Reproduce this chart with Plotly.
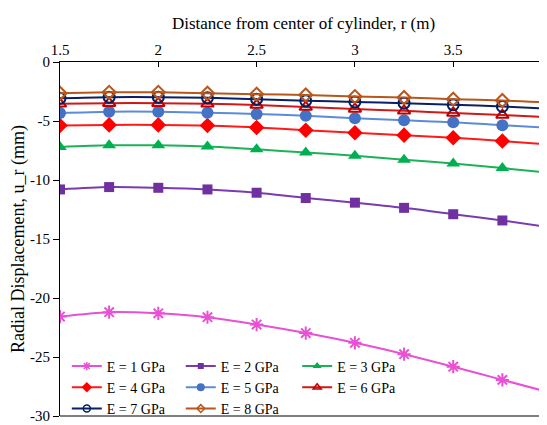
import plotly.graph_objects as go

r_m = [1.5, 1.75, 2.0, 2.25, 2.5, 2.75, 3.0, 3.25, 3.5, 3.75, 4.0]

u_E1 = [-21.57, -21.2, -21.3, -21.63, -22.25, -22.97, -23.8, -24.76, -25.82, -26.94, -28.05]
u_E2 = [-10.8, -10.6, -10.66, -10.8, -11.08, -11.53, -11.92, -12.36, -12.9, -13.43, -14.02]
u_E3 = [-7.2, -7.06, -7.06, -7.17, -7.4, -7.67, -7.95, -8.29, -8.6, -8.99, -9.4]
u_E4 = [-5.38, -5.33, -5.33, -5.38, -5.55, -5.78, -6.0, -6.2, -6.42, -6.7, -7.0]
u_E5 = [-4.33, -4.21, -4.21, -4.3, -4.41, -4.55, -4.77, -4.94, -5.1, -5.36, -5.6]
u_E6 = [-3.54, -3.49, -3.49, -3.54, -3.65, -3.82, -3.98, -4.14, -4.32, -4.5, -4.68]
u_E7 = [-3.07, -2.98, -2.98, -3.04, -3.15, -3.29, -3.38, -3.49, -3.63, -3.77, -3.98]
u_E8 = [-2.65, -2.57, -2.57, -2.65, -2.73, -2.79, -2.93, -3.01, -3.15, -3.26, -3.45]

series_names = ["E = 1 GPa", "E = 2 GPa", "E = 3 GPa", "E = 4 GPa",
                "E = 5 GPa", "E = 6 GPa", "E = 7 GPa", "E = 8 GPa"]
series_values = [u_E1, u_E2, u_E3, u_E4, u_E5, u_E6, u_E7, u_E8]

y_tickvals = [0, -5, -10, -15, -20, -25, -30]
y_ticktext = ["0", "-5", "-10", "-15", "-20", "-25", "-30"]
x_tickvals = [1.5, 2, 2.5, 3, 3.5]
x_ticktext = ["1.5", "2", "2.5", "3", "3.5"]

styles = [
    dict(line="#E851D4", fill="#E851D4", symbol="asterisk-open", size=11, mlw=2),
    dict(line="#7A3BB0", fill="#7030A0", symbol="square", size=10, mlw=0),
    dict(line="#1DB257", fill="#00B050", symbol="triangle-up", size=12, mlw=0),
    dict(line="#FF1A1A", fill="#FF0000", symbol="diamond", size=12, mlw=0),
    dict(line="#5B8BD9", fill="#4472C4", symbol="circle", size=12, mlw=0),
    dict(line="#D01818", fill="#C00000", symbol="triangle-up-open", size=11, mlw=2),
    dict(line="#0B1F66", fill="#002060", symbol="circle-open", size=11, mlw=2),
    dict(line="#B8561B", fill="#B8561B", symbol="diamond-open", size=10, mlw=2),
]
legend_of = ["legend", "legend2", "legend3", "legend", "legend2", "legend3", "legend", "legend2"]

fig = go.Figure()
for name, vals, st in zip(series_names, series_values, styles):
    fig.add_trace(go.Scatter(
        x=r_m, y=vals, mode="lines+markers", name=name, showlegend=False,
        line=dict(color=st["line"], width=2, shape="spline", smoothing=0.8),
        marker=dict(symbol=st["symbol"], size=st["size"], color=st["fill"],
                    line=dict(color=st["fill"], width=st["mlw"])),
    ))
# legend entries (smaller markers, as in the reference legend)
for name, st, lg in zip(series_names, styles, legend_of):
    fig.add_trace(go.Scatter(
        x=[None], y=[None], mode="lines+markers", name=name, legend=lg,
        line=dict(color=st["line"], width=2),
        marker=dict(symbol=st["symbol"], size=max(st["size"] - 4, 6), color=st["fill"],
                    line=dict(color=st["fill"], width=max(st["mlw"] - 0.5, 0))),
    ))

font_family = "Liberation Serif"
legend_common = dict(yanchor="top", y=0.185, xanchor="left", bgcolor="rgba(0,0,0,0)",
                     font=dict(family=font_family, size=14, color="black"),
                     tracegroupgap=0, itemwidth=30)

fig.update_layout(
    width=539, height=417,
    margin=dict(l=52, r=0, t=54, b=9),
    paper_bgcolor="white", plot_bgcolor="white",
    font=dict(family=font_family, size=14, color="black"),
    legend=dict(x=0.014, **legend_common),
    legend2=dict(x=0.248, **legend_common),
    legend3=dict(x=0.487, **legend_common),
    xaxis=dict(
        side="top", range=[1.5, 3.977], tickvals=x_tickvals, ticktext=x_ticktext,
        ticks="inside", ticklen=5, tickcolor="black", showline=True, linecolor="black",
        linewidth=1, showgrid=False, zeroline=False, automargin=False,
        tickfont=dict(family=font_family, size=15),
        title=dict(text="Distance from center of cylinder, r (m)", standoff=8,
                   font=dict(family=font_family, size=17)),
    ),
    yaxis=dict(
        range=[-30, 0], tickvals=y_tickvals, ticktext=y_ticktext,
        ticks="outside", ticklen=6, tickcolor="black", showline=True, linecolor="black",
        linewidth=1, showgrid=False, zeroline=False, automargin=False,
        ticklabeloverflow="allow",
        tickfont=dict(family=font_family, size=15),
        title=dict(text="Radial Displacement, u_r (mm)", standoff=9,
                   font=dict(family=font_family, size=18)),
    ),
    shapes=[dict(type="line", xref="paper", yref="paper", x0=0, x1=1, y0=0, y1=0,
                 line=dict(color="#7F7F7F", width=2))],
)

fig.write_html("out.html")
